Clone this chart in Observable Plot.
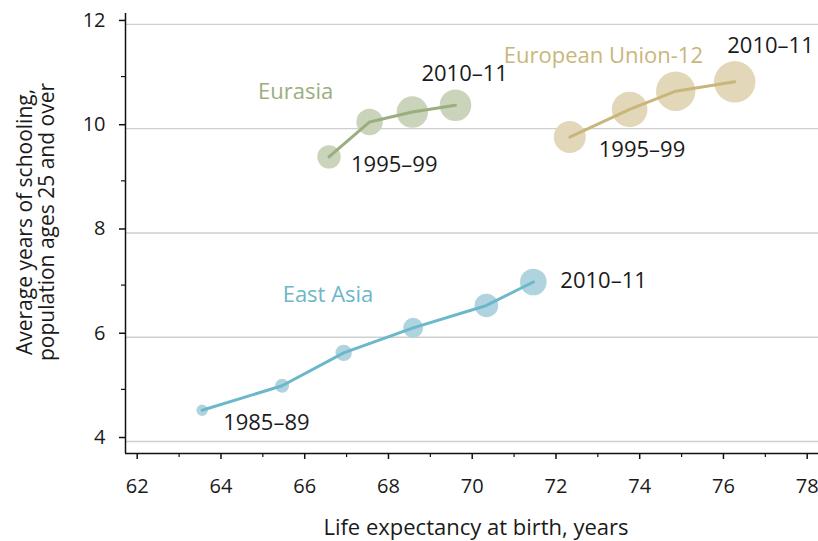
<!DOCTYPE html>
<html>
<head>
<meta charset="utf-8">
<script src="https://cdn.jsdelivr.net/npm/d3@7"></script>
<script src="https://cdn.jsdelivr.net/npm/@observablehq/plot@0.6"></script>
<style>
  html, body { margin: 0; padding: 0; background: #fff; }
  #chart svg { display: block; font-family: "Open Sans", sans-serif; }
</style>
</head>
<body>
<div id="chart"></div>
<script>
// ---- Data ----
const eastAsiaPeriods = ["1985–89", "1990–94", "1995–99", "2000–04", "2005–09", "2010–11"];
const eastAsiaLife    = [63.55, 65.46, 66.93, 68.59, 70.34, 71.46];
const eastAsiaSchool  = [4.60, 5.07, 5.70, 6.18, 6.61, 7.06];
const eastAsiaBubble  = [7.4, 11.1, 15.2, 22.7, 31.6, 40.1];

const eurasiaPeriods = ["1995–99", "2000–04", "2005–09", "2010–11"];
const eurasiaLife    = [66.58, 67.55, 68.57, 69.60];
const eurasiaSchool  = [9.46, 10.13, 10.32, 10.45];
const eurasiaBubble  = [31.0, 39.5, 55.9, 56.6];

const euPeriods = ["1995–99", "2000–04", "2005–09", "2010–11"];
const euLife    = [72.33, 73.76, 74.86, 76.27];
const euSchool  = [9.84, 10.37, 10.72, 10.90];
const euBubble  = [58.0, 71.8, 88.0, 97.2];

const regionNames = ["East Asia", "Eurasia", "European Union-12"];
const xTicks = [62, 64, 66, 68, 70, 72, 74, 76, 78];
const xMinorTicks = [63, 65, 67, 69, 71, 73, 75, 77];
const yTicks = [4, 6, 8, 10, 12];
const yMinorTicks = [5, 7, 9, 11];
const xTitle = "Life expectancy at birth, years";
const yTitleLines = ["Average years of schooling,", "population ages 25 and over"];

// ---- Build table ----
function rows(region, periods, life, school, bubble) {
  return periods.map((p, i) => ({region, period: p, life: life[i], school: school[i], bubble: bubble[i]}));
}
const eastAsia = rows(regionNames[0], eastAsiaPeriods, eastAsiaLife, eastAsiaSchool, eastAsiaBubble);
const eurasia  = rows(regionNames[1], eurasiaPeriods, eurasiaLife, eurasiaSchool, eurasiaBubble);
const eu       = rows(regionNames[2], euPeriods, euLife, euSchool, euBubble);
const all = [...eastAsia, ...eurasia, ...eu];

const lineColor   = {"East Asia": "#6cb7c9", "Eurasia": "#9bae7e", "European Union-12": "#c9b67b"};
const bubbleColor = {"East Asia": "#afd4e0", "Eurasia": "#cad4bb", "European Union-12": "#e2d7b8"};

const textColor = "#1a1a1a";
const annFont = 22;
const intFmt = d3.format("d");

const first = (d) => d[0];
const last = (d) => d[d.length - 1];

const plot = Plot.plot({
  width: 818,
  height: 541,
  marginLeft: 125,
  marginRight: 0,
  marginTop: 13,
  marginBottom: 88,
  style: {fontFamily: "Open Sans, sans-serif", background: "#fff"},
  x: {domain: [61.72, 78.27], label: null},
  y: {domain: [3.77, 12.21], label: null},
  r: {type: "sqrt", domain: [0, 100], range: [0, 21]},
  marks: [
    Plot.gridY(yTicks, {stroke: "#cfcfcf", strokeOpacity: 1, strokeWidth: 1.3}),
    // axes
    Plot.axisY(yTicks, {tickSize: 6, tickPadding: 14, fontSize: 20, dy: -4, tickFormat: intFmt, fill: textColor, stroke: "#111", strokeWidth: 1.5, label: null}),
    Plot.axisY(yMinorTicks, {tickSize: 4, tickFormat: () => "", stroke: "#111", strokeWidth: 1.2, label: null}),
    Plot.axisX(xTicks, {tickSize: 6, tickPadding: 19, fontSize: 20, tickFormat: intFmt, fill: textColor, stroke: "#111", strokeWidth: 1.5, label: null}),
    Plot.axisX(xMinorTicks, {tickSize: 4, tickFormat: () => "", stroke: "#111", strokeWidth: 1.2, label: null}),
    Plot.ruleX([61.72], {stroke: "#111", strokeWidth: 1.5}),
    Plot.ruleY([3.77], {stroke: "#111", strokeWidth: 1.5}),
    // bubbles
    Plot.dot(all, {x: "life", y: "school", r: "bubble", fill: (d) => bubbleColor[d.region], stroke: "none"}),
    // lines
    Plot.line(all, {x: "life", y: "school", z: "region", stroke: (d) => lineColor[d.region], strokeWidth: 3}),
    // period annotations
    Plot.text([first(eastAsia)], {x: "life", y: "school", text: "period", dx: 21, dy: 20, textAnchor: "start", lineAnchor: "bottom", fontSize: annFont, fill: textColor}),
    Plot.text([last(eastAsia)], {x: "life", y: "school", text: "period", dx: 27, dy: 6, textAnchor: "start", lineAnchor: "bottom", fontSize: annFont, fill: textColor}),
    Plot.text([first(eurasia)], {x: "life", y: "school", text: "period", dx: 22, dy: 15, textAnchor: "start", lineAnchor: "bottom", fontSize: annFont, fill: textColor}),
    Plot.text([last(eurasia)], {x: "life", y: "school", text: "period", dx: -34, dy: -24, textAnchor: "start", lineAnchor: "bottom", fontSize: annFont, fill: textColor}),
    Plot.text([first(eu)], {x: "life", y: "school", text: "period", dx: 29, dy: 20, textAnchor: "start", lineAnchor: "bottom", fontSize: annFont, fill: textColor}),
    Plot.text([last(eu)], {x: "life", y: "school", text: "period", dx: 79, dy: -29, textAnchor: "end", lineAnchor: "bottom", fontSize: annFont, fill: textColor}),
    // region names
    Plot.text([eastAsia[2]], {x: "life", y: "school", text: "region", dx: -61, dy: -51, textAnchor: "start", lineAnchor: "bottom", fontSize: 22, fill: lineColor["East Asia"]}),
    Plot.text([first(eurasia)], {x: "life", y: "school", text: "region", dx: -71, dy: -58, textAnchor: "start", lineAnchor: "bottom", fontSize: 22, fill: lineColor["Eurasia"]}),
    Plot.text([first(eu)], {x: "life", y: "school", text: "region", dx: -66, dy: -74, textAnchor: "start", lineAnchor: "bottom", fontSize: 22, fill: lineColor["European Union-12"]})
  ]
});

document.getElementById("chart").appendChild(plot);

// Axis titles
const svg = d3.select(plot);
svg.append("text")
  .attr("x", 476).attr("y", 535)
  .attr("text-anchor", "middle")
  .attr("font-size", 22)
  .attr("fill", textColor)
  .text(xTitle);

const yt = svg.append("text")
  .attr("transform", "translate(0,222) rotate(-90)")
  .attr("text-anchor", "middle")
  .attr("font-size", 21)
  .attr("fill", textColor);
yTitleLines.forEach((line, i) => {
  yt.append("tspan").attr("x", 0).attr("y", i === 0 ? 32 : 54).text(line);
});
</script>
</body>
</html>
